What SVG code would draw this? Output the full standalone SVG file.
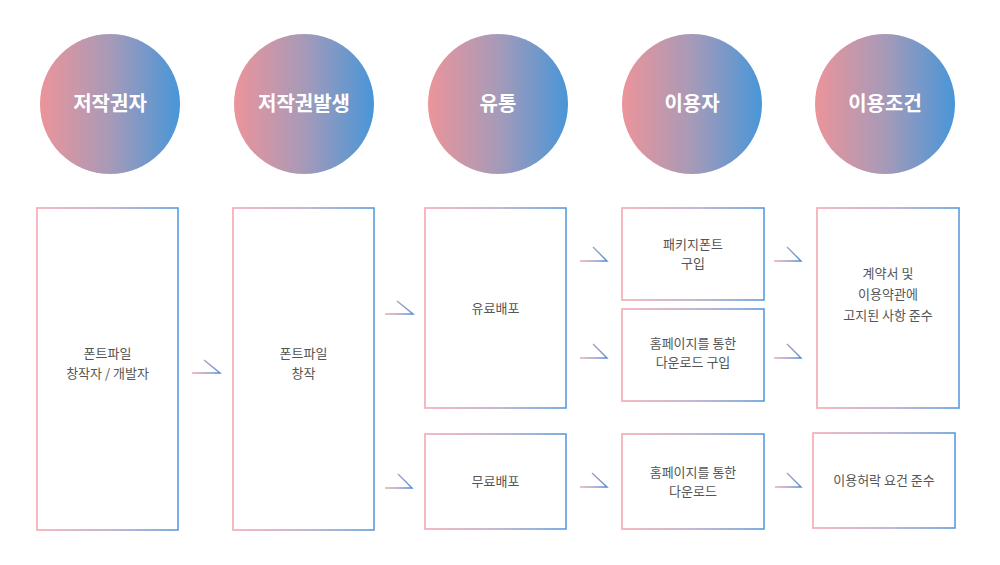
<svg xmlns="http://www.w3.org/2000/svg" width="1000" height="565" viewBox="0 0 1000 565">
<defs>
<linearGradient id="gc" x1="0" y1="0" x2="1" y2="0"><stop offset="0" stop-color="#ec949a"/><stop offset="0.5" stop-color="#a79ab8"/><stop offset="1" stop-color="#4896d8"/></linearGradient>
<linearGradient id="gb" x1="0" y1="0" x2="1" y2="0"><stop offset="0" stop-color="#f4a8b1"/><stop offset="0.5" stop-color="#b8a6c6"/><stop offset="1" stop-color="#5a9bdc"/></linearGradient>
<linearGradient id="ga" x1="0" y1="0" x2="1" y2="0"><stop offset="0" stop-color="#f2a6b0"/><stop offset="0.5" stop-color="#a79ac4"/><stop offset="1" stop-color="#4f8fd3"/></linearGradient>
</defs>
<style>
.c{fill:url(#gc)}
.ct{fill:#fff;font-family:"Noto Sans CJK KR","Noto Sans",sans-serif;font-size:20px;font-weight:700;text-anchor:middle}
.b{fill:#fff;stroke:url(#gb);stroke-width:1.6}
.t{fill:#555;font-family:"Noto Sans CJK KR","Noto Sans",sans-serif;font-size:13px;text-anchor:middle}
.a{fill:none;stroke:url(#ga);stroke-width:1.4}
</style>
<g id="step1"><circle class="c" cx="110" cy="104" r="70"/><text class="ct" x="110" y="111">저작권자</text></g>
<g id="step2"><circle class="c" cx="304" cy="104" r="70"/><text class="ct" x="304" y="111">저작권발생</text></g>
<g id="step3"><circle class="c" cx="498" cy="104" r="70"/><text class="ct" x="498" y="111">유통</text></g>
<g id="step4"><circle class="c" cx="692" cy="104" r="70"/><text class="ct" x="692" y="111">이용자</text></g>
<g id="step5"><circle class="c" cx="885" cy="104" r="70"/><text class="ct" x="885" y="111">이용조건</text></g>

<g id="box1"><rect class="b" x="37" y="208" width="141" height="322"/><text class="t" x="107.5" y="358">폰트파일</text><text class="t" x="107.5" y="378">창작자 / 개발자</text></g>
<g id="box2"><rect class="b" x="233" y="208" width="141" height="322"/><text class="t" x="303.5" y="358">폰트파일</text><text class="t" x="303.5" y="378">창작</text></g>
<g id="box3"><rect class="b" x="425" y="208" width="141" height="200"/><text class="t" x="495.5" y="313">유료배포</text></g>
<g id="box4"><rect class="b" x="425" y="434" width="141" height="95"/><text class="t" x="495.5" y="486">무료배포</text></g>
<g id="box5"><rect class="b" x="622" y="208" width="142" height="92"/><text class="t" x="693" y="249">패키지폰트</text><text class="t" x="693" y="268">구입</text></g>
<g id="box6"><rect class="b" x="622" y="309" width="142" height="92"/><text class="t" x="693" y="348">홈페이지를 통한</text><text class="t" x="693" y="367">다운로드 구입</text></g>
<g id="box7"><rect class="b" x="622" y="434" width="142" height="95"/><text class="t" x="693" y="477">홈페이지를 통한</text><text class="t" x="693" y="496">다운로드</text></g>
<g id="box8"><rect class="b" x="817" y="208" width="142" height="200"/><text class="t" x="888" y="278">계약서 및</text><text class="t" x="888" y="299">이용약관에</text><text class="t" x="888" y="320">고지된 사항 준수</text></g>
<g id="box9"><rect class="b" x="813" y="433" width="142" height="95"/><text class="t" x="884" y="485">이용허락 요건 준수</text></g>

<g id="connectors">
<path class="a" d="M192 373H220L204 360"/>
<path class="a" d="M385 314H413L397 301"/>
<path class="a" d="M385 488H412L398 474"/>
<path class="a" d="M580 261H607L593 247"/>
<path class="a" d="M580 358H607L593 344"/>
<path class="a" d="M774 261H801L787 247"/>
<path class="a" d="M774 358H801L787 344"/>
<path class="a" d="M580 487H607L592 473"/>
<path class="a" d="M775 487H801L787 473"/>
</g>
</svg>
